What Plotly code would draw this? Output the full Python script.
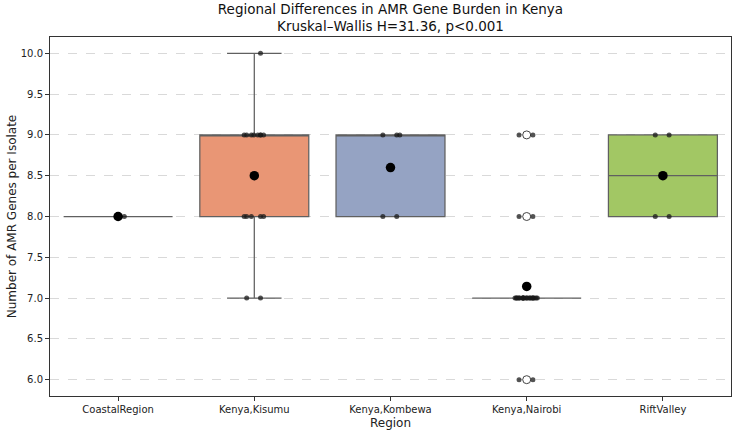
import numpy as np
import plotly.graph_objects as go

# ---- data ----
regions = ["CoastalRegion", "Kenya,Kisumu", "Kenya,Kombewa", "Kenya,Nairobi", "RiftValley"]
coastal = [8]
kisumu = [10] + [9] * 8 + [8] * 5 + [7] * 2
kombewa = [9, 9, 9, 8, 8]
nairobi = [9] * 2 + [8] * 2 + [7] * 22 + [6] * 2
rift = [9, 9, 8, 8]
values = [coastal, kisumu, kombewa, nairobi, rift]
box_colors = ["#78b9a3", "#e99675", "#95a3c3", "#d596bd", "#a2c764"]
y_ticks = [6.0, 6.5, 7.0, 7.5, 8.0, 8.5, 9.0, 9.5, 10.0]
title_l1 = "Regional Differences in AMR Gene Burden in Kenya"
title_l2 = "Kruskal\u2013Wallis H=31.36, p<0.001"

FONT = "DejaVu Sans"
fig = go.Figure()

flier_sets = []
# boxes (stats computed like matplotlib/seaborn)
for reg, vals, col in zip(regions, values, box_colors):
    a = np.array(vals, dtype=float)
    q1, med, q3 = np.percentile(a, [25, 50, 75])
    iqr = q3 - q1
    lo_lim, hi_lim = q1 - 1.5 * iqr, q3 + 1.5 * iqr
    inside = a[(a >= lo_lim) & (a <= hi_lim)]
    lo, hi = inside.min(), inside.max()
    fig.add_trace(go.Box(
        x=[reg], q1=[q1], median=[med], q3=[q3], lowerfence=[lo], upperfence=[hi],
        fillcolor=col, line=dict(color="#606060", width=1.25), width=0.8,
        whiskerwidth=0.5, boxpoints=False, showlegend=False, hoverinfo="skip"))
    fl = a[(a < lo_lim) | (a > hi_lim)]
    if len(fl):
        flier_sets.append((reg, np.unique(fl)))

# fliers (drawn in the box layer, beneath the strip points)
for reg, fl in flier_sets:
    fig.add_trace(go.Box(
        x=[reg] * len(fl), y=fl, boxpoints="all", jitter=0, pointpos=0,
        fillcolor="rgba(0,0,0,0)", line=dict(width=0, color="rgba(0,0,0,0)"),
        width=0.8, showlegend=False, hoverinfo="skip",
        marker=dict(symbol="circle", size=8, color="white",
                    line=dict(color="#444444", width=1))))

# strip points (library jitter), one group per distinct value
for reg, vals in zip(regions, values):
    a = np.array(vals, dtype=float)
    for v in np.unique(a):
        grp = a[a == v]
        fig.add_trace(go.Box(
            x=[reg] * len(grp), y=grp, boxpoints="all", jitter=0.22, pointpos=0,
            fillcolor="rgba(0,0,0,0)", line=dict(width=0, color="rgba(0,0,0,0)"),
            width=0.8, showlegend=False, hoverinfo="skip",
            marker=dict(size=5, color="rgba(25,25,25,0.75)")))

# means
means = [float(np.mean(v)) for v in values]
fig.add_trace(go.Scatter(x=regions, y=means, mode="markers", showlegend=False,
                         marker=dict(size=9.5, color="black")))

fig.update_layout(
    width=734, height=433,
    margin=dict(l=50, r=3, t=37, b=37),
    paper_bgcolor="white", plot_bgcolor="white",
    boxmode="overlay",
    font=dict(family=FONT, color="#222222"),
    title=dict(text=title_l1 + "<br>" + title_l2, x=0.532, xanchor="center",
               y=0.968, yanchor="top", font=dict(size=13.5, family=FONT, color="#111111")),
    xaxis=dict(type="category", categoryorder="array", categoryarray=regions,
               range=[-0.5, 4.5], showline=True, linecolor="#333333", linewidth=1,
               mirror=True, ticks="outside", ticklen=4, tickcolor="#333333",
               showgrid=False, tickfont=dict(size=10, family=FONT, color="#222222"),
               title=dict(text="Region", font=dict(size=12, family=FONT), standoff=4)),
    yaxis=dict(range=[5.8, 10.2], tickvals=y_ticks,
               ticktext=[f"{t:.1f}" for t in y_ticks],
               showline=True, linecolor="#333333", linewidth=1, mirror=True,
               ticks="outside", ticklen=4, tickcolor="#333333",
               showgrid=True, gridcolor="#d9d9d9", griddash="dash", gridwidth=0.8,
               zeroline=False, tickfont=dict(size=10, family=FONT, color="#222222"),
               title=dict(text="Number of AMR Genes per Isolate",
                          font=dict(size=12, family=FONT), standoff=1)),
)

fig.write_html("out.html")
